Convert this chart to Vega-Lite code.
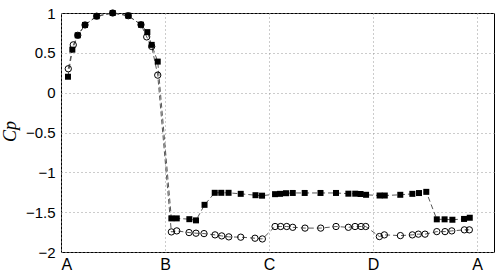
{
  "$schema": "https://vega.github.io/schema/vega-lite/v6.json",
  "width": 433,
  "height": 239,
  "autosize": "none",
  "padding": {"left": 61, "top": 13, "right": 4, "bottom": 24},
  "background": "white",
  "config": {
    "view": {"stroke": "black", "strokeWidth": 1},
    "axis": {
      "labelFont": "Liberation Sans",
      "labelFontSize": 15,
      "labelColor": "black",
      "domain": false,
      "ticks": false,
      "grid": true,
      "gridColor": "#999",
      "gridDash": [1, 3],
      "gridWidth": 1
    }
  },
  "data": {
    "values": [
      {"s": "sq", "x": 0.067, "y": 0.20},
      {"s": "sq", "x": 0.109, "y": 0.54},
      {"s": "sq", "x": 0.161, "y": 0.72},
      {"s": "sq", "x": 0.231, "y": 0.85},
      {"s": "sq", "x": 0.343, "y": 0.96},
      {"s": "sq", "x": 0.497, "y": 1.0},
      {"s": "sq", "x": 0.647, "y": 0.966},
      {"s": "sq", "x": 0.769, "y": 0.853},
      {"s": "sq", "x": 0.83, "y": 0.76},
      {"s": "sq", "x": 0.872, "y": 0.60},
      {"s": "sq", "x": 0.93, "y": 0.39},
      {"s": "sq", "x": 1.061, "y": -1.578},
      {"s": "sq", "x": 1.113, "y": -1.578},
      {"s": "sq", "x": 1.234, "y": -1.588},
      {"s": "sq", "x": 1.298, "y": -1.603},
      {"s": "sq", "x": 1.38, "y": -1.408},
      {"s": "sq", "x": 1.478, "y": -1.257},
      {"s": "sq", "x": 1.541, "y": -1.257},
      {"s": "sq", "x": 1.611, "y": -1.257},
      {"s": "sq", "x": 1.728, "y": -1.27},
      {"s": "sq", "x": 1.87, "y": -1.287},
      {"s": "sq", "x": 1.933, "y": -1.293},
      {"s": "sq", "x": 2.058, "y": -1.274},
      {"s": "sq", "x": 2.106, "y": -1.27},
      {"s": "sq", "x": 2.163, "y": -1.262},
      {"s": "sq", "x": 2.228, "y": -1.259},
      {"s": "sq", "x": 2.343, "y": -1.259},
      {"s": "sq", "x": 2.495, "y": -1.259},
      {"s": "sq", "x": 2.644, "y": -1.259},
      {"s": "sq", "x": 2.763, "y": -1.268},
      {"s": "sq", "x": 2.829, "y": -1.268},
      {"s": "sq", "x": 2.88, "y": -1.272},
      {"s": "sq", "x": 2.933, "y": -1.282},
      {"s": "sq", "x": 3.063, "y": -1.291},
      {"s": "sq", "x": 3.113, "y": -1.291},
      {"s": "sq", "x": 3.262, "y": -1.282},
      {"s": "sq", "x": 3.378, "y": -1.27},
      {"s": "sq", "x": 3.442, "y": -1.26},
      {"s": "sq", "x": 3.512, "y": -1.245},
      {"s": "sq", "x": 3.613, "y": -1.59},
      {"s": "sq", "x": 3.688, "y": -1.59},
      {"s": "sq", "x": 3.763, "y": -1.595},
      {"s": "sq", "x": 3.875, "y": -1.585},
      {"s": "sq", "x": 3.93, "y": -1.57},
      {"s": "ci", "x": 0.07, "y": 0.30},
      {"s": "ci", "x": 0.118, "y": 0.60},
      {"s": "ci", "x": 0.161, "y": 0.72},
      {"s": "ci", "x": 0.231, "y": 0.85},
      {"s": "ci", "x": 0.343, "y": 0.96},
      {"s": "ci", "x": 0.497, "y": 1.0},
      {"s": "ci", "x": 0.647, "y": 0.966},
      {"s": "ci", "x": 0.769, "y": 0.853},
      {"s": "ci", "x": 0.824, "y": 0.70},
      {"s": "ci", "x": 0.872, "y": 0.58},
      {"s": "ci", "x": 0.93, "y": 0.22},
      {"s": "ci", "x": 1.061, "y": -1.748},
      {"s": "ci", "x": 1.113, "y": -1.735},
      {"s": "ci", "x": 1.231, "y": -1.756},
      {"s": "ci", "x": 1.298, "y": -1.764},
      {"s": "ci", "x": 1.375, "y": -1.769},
      {"s": "ci", "x": 1.481, "y": -1.785},
      {"s": "ci", "x": 1.545, "y": -1.798},
      {"s": "ci", "x": 1.613, "y": -1.81},
      {"s": "ci", "x": 1.728, "y": -1.814},
      {"s": "ci", "x": 1.865, "y": -1.827},
      {"s": "ci", "x": 1.936, "y": -1.836},
      {"s": "ci", "x": 2.058, "y": -1.68},
      {"s": "ci", "x": 2.112, "y": -1.68},
      {"s": "ci", "x": 2.17, "y": -1.68},
      {"s": "ci", "x": 2.228, "y": -1.69},
      {"s": "ci", "x": 2.346, "y": -1.70},
      {"s": "ci", "x": 2.497, "y": -1.70},
      {"s": "ci", "x": 2.644, "y": -1.68},
      {"s": "ci", "x": 2.763, "y": -1.69},
      {"s": "ci", "x": 2.827, "y": -1.68},
      {"s": "ci", "x": 2.885, "y": -1.68},
      {"s": "ci", "x": 2.93, "y": -1.68},
      {"s": "ci", "x": 3.061, "y": -1.806},
      {"s": "ci", "x": 3.109, "y": -1.785},
      {"s": "ci", "x": 3.263, "y": -1.794},
      {"s": "ci", "x": 3.378, "y": -1.785},
      {"s": "ci", "x": 3.436, "y": -1.776},
      {"s": "ci", "x": 3.5, "y": -1.776},
      {"s": "ci", "x": 3.613, "y": -1.744},
      {"s": "ci", "x": 3.692, "y": -1.744},
      {"s": "ci", "x": 3.757, "y": -1.735},
      {"s": "ci", "x": 3.878, "y": -1.722},
      {"s": "ci", "x": 3.926, "y": -1.722}
    ]
  },
  "encoding": {
    "x": {
      "field": "x", "type": "quantitative",
      "scale": {"domain": [0, 4.163], "nice": false, "zero": false},
      "axis": {
        "title": null,
        "values": [0, 1, 2, 3, 4],
        "labelExpr": "['A','B','C','D','A'][datum.value]",
        "labelPadding": 4,
        "labelFontSize": 16
      }
    },
    "y": {
      "field": "y", "type": "quantitative",
      "scale": {"domain": [-2, 1], "nice": false, "zero": false},
      "axis": {
        "title": "Cp",
        "values": [-2, -1.5, -1, -0.5, 0, 0.5, 1],
        "format": "~g",
        "labelPadding": 6,
        "titleFont": "Liberation Serif",
        "titleFontStyle": "italic",
        "titleFontWeight": "normal",
        "titleFontSize": 18,
        "titleColor": "black",
        "titleAngle": -90,
        "titleX": -51,
        "titleY": 118,
        "titleAlign": "center",
        "titleBaseline": "middle"
      }
    }
  },
  "layer": [
    {
      "mark": {"type": "line", "color": "#444", "strokeWidth": 0.9, "strokeDash": [5, 3]},
      "encoding": {"detail": {"field": "s"}}
    },
    {
      "transform": [{"filter": "datum.s === 'sq'"}],
      "mark": {"type": "point", "shape": "square", "filled": true, "color": "black", "size": 36, "opacity": 1}
    },
    {
      "transform": [{"filter": "datum.s === 'ci'"}],
      "mark": {"type": "point", "shape": "circle", "filled": false, "color": "black", "size": 40, "strokeWidth": 1, "opacity": 1}
    }
  ]
}
